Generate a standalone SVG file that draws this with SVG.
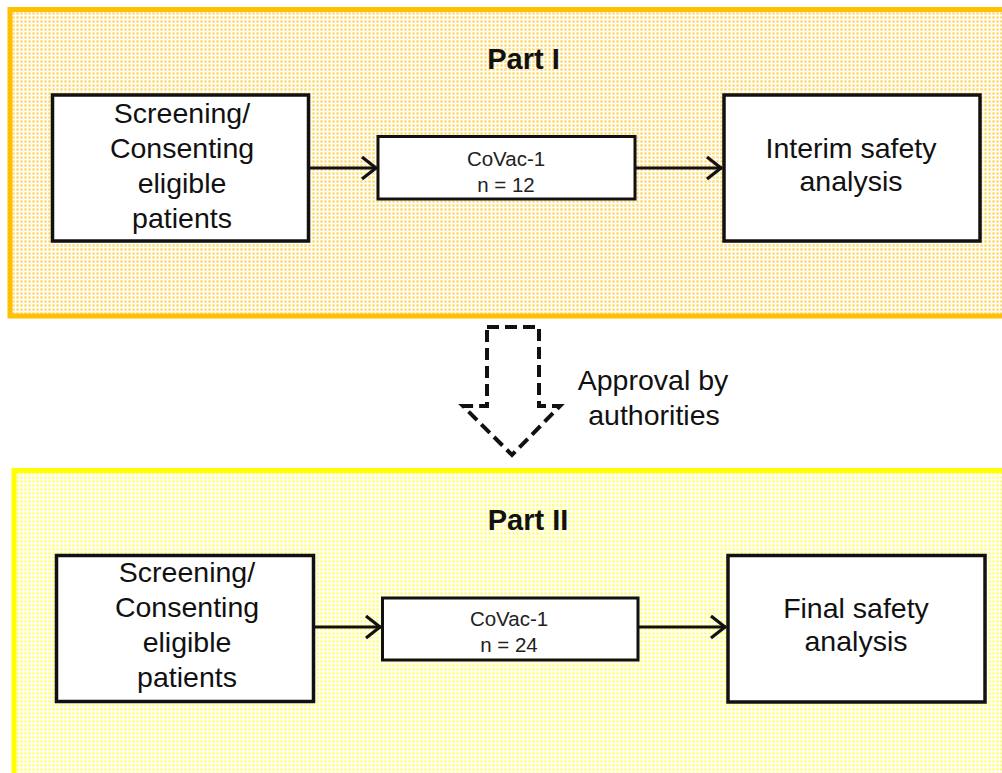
<svg xmlns="http://www.w3.org/2000/svg" width="1002" height="773" viewBox="0 0 1002 773">
<defs>
<pattern id="dotO" width="4" height="4" patternUnits="userSpaceOnUse">
<rect width="4" height="4" fill="#ffffff"/>
<rect x="0" y="0" width="3" height="3" fill="#FFE9A8"/>
<rect x="1" y="1" width="1" height="1" fill="#FFD24D"/>
</pattern>
<pattern id="dotY" width="4" height="4" patternUnits="userSpaceOnUse">
<rect width="4" height="4" fill="#ffffff"/>
<rect x="0" y="0" width="3" height="3" fill="#FFFFB4"/>
<rect x="1" y="1" width="1" height="1" fill="#FFFF30"/>
</pattern>
<marker id="chev" viewBox="0 0 20 26" refX="18" refY="13" markerWidth="20" markerHeight="26" markerUnits="userSpaceOnUse" orient="auto">
<path d="M3,2 L17,13 L3,24" fill="none" stroke="#111" stroke-width="3.2" stroke-linejoin="miter"/>
</marker>
<style>
.box{fill:#fff;stroke:#111;stroke-width:3.5}
.t{font-family:"Liberation Sans",Arial,sans-serif;font-size:28.5px;fill:#111;text-anchor:middle}
.s{font-family:"Liberation Sans",Arial,sans-serif;font-size:20.5px;fill:#222;text-anchor:middle}
.h{font-family:"Liberation Sans",Arial,sans-serif;font-size:29px;font-weight:bold;fill:#111;text-anchor:middle}
.c{fill:none;stroke:#111;stroke-width:3}
</style>
</defs>
<rect width="1002" height="773" fill="#fff"/>
<g id="part1">
<rect x="10" y="9.5" width="1010" height="306.5" fill="url(#dotO)" stroke="#FFC000" stroke-width="5"/>
<text class="h" x="523.5" y="69">Part I</text>
</g>
<g id="part2">
<rect x="14" y="470.5" width="1010" height="320" fill="url(#dotY)" stroke="#FFFF00" stroke-width="5"/>
<text class="h" x="528" y="530">Part II</text>
</g>
<g id="connectors">
<line class="c" x1="310" y1="168" x2="377" y2="168" marker-end="url(#chev)"/>
<line class="c" x1="635" y1="168" x2="722" y2="168" marker-end="url(#chev)"/>
<line class="c" x1="315" y1="627" x2="381" y2="627" marker-end="url(#chev)"/>
<line class="c" x1="638" y1="627" x2="726" y2="627" marker-end="url(#chev)"/>
</g>
<g id="s1">
<rect class="box" x="52.5" y="95" width="256" height="146"/>
<text class="t" x="182" y="123">Screening/</text>
<text class="t" x="182" y="158">Consenting</text>
<text class="t" x="182" y="193">eligible</text>
<text class="t" x="182" y="228">patients</text>
</g>
<g id="v1">
<rect class="box" x="378" y="136.5" width="257" height="62.5" style="stroke-width:3"/>
<text class="s" x="506" y="166">CoVac-1</text>
<text class="s" x="506" y="192">n = 12</text>
</g>
<g id="i1">
<rect class="box" x="724" y="95" width="256" height="146"/>
<text class="t" x="851" y="158">Interim safety</text>
<text class="t" x="851" y="191">analysis</text>
</g>
<g id="approval">
<polygon points="487,327 539,327 539,406 560,406 512,455 463,406 487,406" fill="none" stroke="#111" stroke-width="4" stroke-dasharray="12,6"/>
<text class="t" x="653" y="390">Approval by</text>
<text class="t" x="654" y="425">authorities</text>
</g>
<g id="s2">
<rect class="box" x="56.5" y="555.5" width="257" height="146"/>
<text class="t" x="187" y="582">Screening/</text>
<text class="t" x="187" y="617">Consenting</text>
<text class="t" x="187" y="652">eligible</text>
<text class="t" x="187" y="687">patients</text>
</g>
<g id="v2">
<rect class="box" x="382.5" y="598" width="255.5" height="62" style="stroke-width:3"/>
<text class="s" x="509" y="626">CoVac-1</text>
<text class="s" x="509" y="652">n = 24</text>
</g>
<g id="f2">
<rect class="box" x="728" y="555.5" width="257" height="146.5"/>
<text class="t" x="856" y="618">Final safety</text>
<text class="t" x="856" y="651">analysis</text>
</g>
</svg>
